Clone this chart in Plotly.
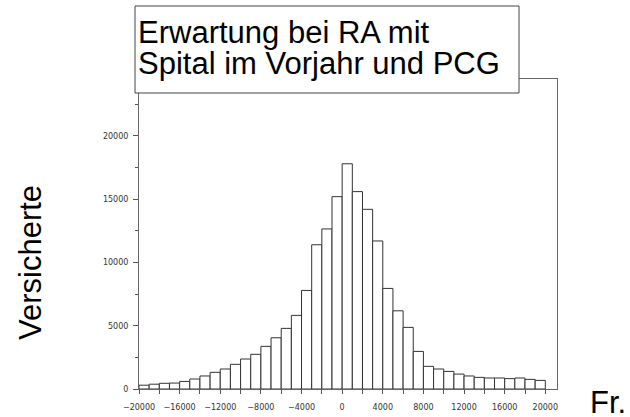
import plotly.graph_objects as go

# Bin lower edges (Fr.), bin width 1000
bin_left = [-20000, -19000, -18000, -17000, -16000, -15000, -14000, -13000, -12000, -11000,
            -10000, -9000, -8000, -7000, -6000, -5000, -4000, -3000, -2000, -1000,
            0, 1000, 2000, 3000, 4000, 5000, 6000, 7000, 8000, 9000,
            10000, 11000, 12000, 13000, 14000, 15000, 16000, 17000, 18000, 19000]
bin_width = 1000
counts = [300, 380, 450, 470, 600, 790, 1030, 1320, 1580, 1950,
          2370, 2740, 3370, 4050, 4790, 5820, 7790, 11400, 12650, 15200,
          17800, 15600, 14200, 11700, 7950, 6180, 4870, 2970, 1790, 1580,
          1390, 1180, 1030, 920, 870, 870, 820, 870, 760, 680]

title_lines = ["Erwartung bei RA mit", "Spital im Vorjahr und PCG"]
y_title = "Versicherte"
x_title = "Fr."

W, H = 630, 417
ML, MR, MT, MB = 139, 73, 79, 28
PW, PH = W - ML - MR, H - MT - MB

def px(x):
    return (x - ML) / PW

def py(y):
    return (H - MB - y) / PH

centers = [b + bin_width / 2 for b in bin_left]

fig = go.Figure(go.Bar(
    x=centers, y=counts, width=bin_width,
    marker=dict(color="white", line=dict(color="#333333", width=1)),
))

tickfont = dict(family="DejaVu Sans", size=8, color="#333333")
fig.update_layout(
    width=W, height=H,
    margin=dict(l=ML, r=MR, t=MT, b=MB, autoexpand=False),
    paper_bgcolor="white", plot_bgcolor="white",
    showlegend=False,
    xaxis=dict(range=[-20000, 21150], tick0=0, dtick=4000, ticks="outside", ticklen=4,
               tickformat="d", ticklabelstandoff=6,
               tickcolor="#555555", showline=True, linecolor="#666666", linewidth=1,
               mirror=True, showgrid=False, zeroline=False, tickfont=tickfont,
               minor=dict(dtick=2000, tick0=0, ticks="outside", ticklen=4, tickcolor="#555555")),
    yaxis=dict(range=[0, 24500], tick0=0, dtick=5000, ticks="outside", ticklen=5,
               tickformat="d", ticklabelstandoff=3,
               tickcolor="#555555", showline=True, linecolor="#666666", linewidth=1,
               mirror=True, showgrid=False, zeroline=False, tickfont=tickfont,
               minor=dict(dtick=2500, tick0=0, ticks="outside", ticklen=3, tickcolor="#555555")),
)

# title box
fig.add_shape(type="rect", xref="paper", yref="paper",
              x0=px(135), x1=px(519), y0=py(93), y1=py(6),
              fillcolor="white", line=dict(color="#444444", width=1), layer="above")

title_font = dict(family="Liberation Sans, Arial", size=31, color="black")
for i, line in enumerate(title_lines):
    fig.add_annotation(text=line, xref="paper", yref="paper", x=px(136), y=py(33 + 30 * i),
                       xanchor="left", yanchor="middle", showarrow=False, font=title_font)

fig.add_annotation(text=y_title, xref="paper", yref="paper", x=px(30), y=py(263),
                   xanchor="center", yanchor="middle", textangle=-90, showarrow=False,
                   font=title_font)
fig.add_annotation(text=x_title, xref="paper", yref="paper", x=px(588), y=py(402),
                   xanchor="left", yanchor="middle", showarrow=False, font=title_font)

fig.write_html("out.html", config={"displayModeBar": False},
               post_script="document.body.style.margin='0';document.body.style.overflow='hidden';")
